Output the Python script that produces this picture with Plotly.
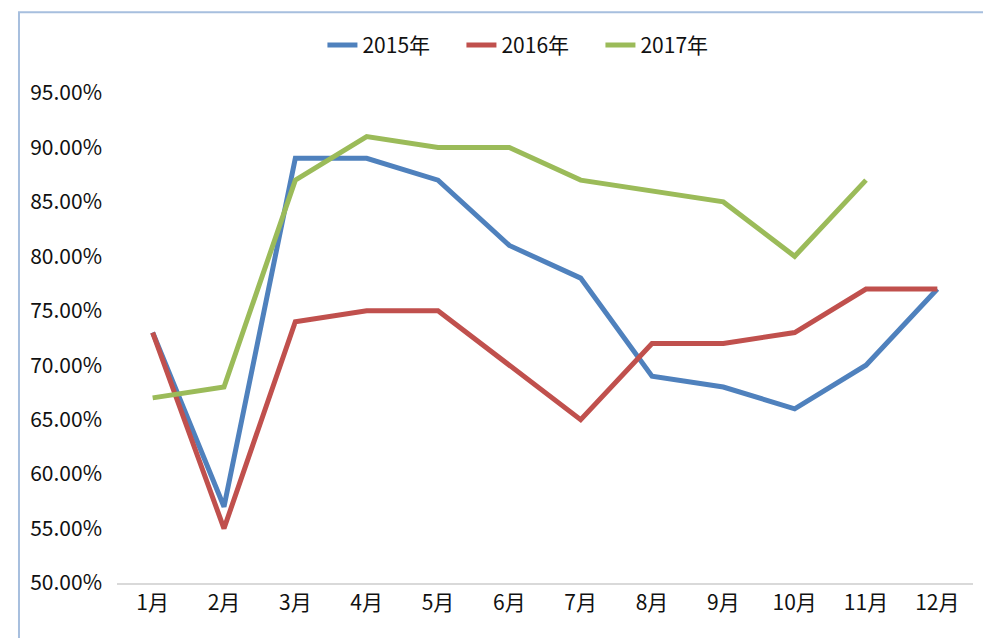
import plotly.graph_objects as go

months = ["1月", "2月", "3月", "4月", "5月", "6月", "7月", "8月", "9月", "10月", "11月", "12月"]
s2015 = [73, 57, 89, 89, 87, 81, 78, 69, 68, 66, 70, 77]
s2016 = [73, 55, 74, 75, 75, 70, 65, 72, 72, 73, 77, 77]
s2017 = [67, 68, 87, 91, 90, 90, 87, 86, 85, 80, 87]
series_names = ["2015年", "2016年", "2017年"]
colors = ["#4F81BD", "#C0504D", "#9BBB59"]
ytick_vals = [50, 55, 60, 65, 70, 75, 80, 85, 90, 95]
ytick_text = [f"{v:.2f}%" for v in ytick_vals]

fig = go.Figure()
for name, vals, c in zip(series_names, [s2015, s2016, s2017], colors):
    fig.add_trace(go.Scatter(
        x=months[:len(vals)], y=vals, name=name, mode="lines",
        line=dict(color=c, width=5),
    ))

font = "Noto Sans CJK SC, Microsoft YaHei, sans-serif"
fig.update_layout(
    width=983, height=630,
    margin=dict(l=109, r=18, t=85, b=55, autoexpand=False),
    paper_bgcolor="white", plot_bgcolor="white",
    font=dict(family=font, size=21, color="#111111"),
    showlegend=True,
    legend=dict(orientation="h", x=0.24, xanchor="left", y=1.097, yanchor="middle",
                font=dict(size=21), bgcolor="rgba(0,0,0,0)", tracegroupgap=0,
                entrywidth=94, entrywidthmode="pixels"),
    xaxis=dict(type="category", categoryorder="array", categoryarray=months,
               range=[-0.5, 11.5], showline=True, linecolor="#D9D9D9", linewidth=2,
               showgrid=False, ticks="", ticklen=0, zeroline=False, fixedrange=True,
               automargin=False),
    yaxis=dict(range=[50, 95], tickvals=ytick_vals, ticktext=ytick_text,
               showline=False, showgrid=False, zeroline=False, ticks="",
               ticklabelstandoff=14, fixedrange=True, automargin=False),
    shapes=[dict(type="rect", xref="paper", yref="paper",
                 x0=-0.1145, x1=1.2, y0=-0.3, y1=1.165,
                 line=dict(color="#A7BFDE", width=2), layer="below")],
)

fig.write_html("out.html")
